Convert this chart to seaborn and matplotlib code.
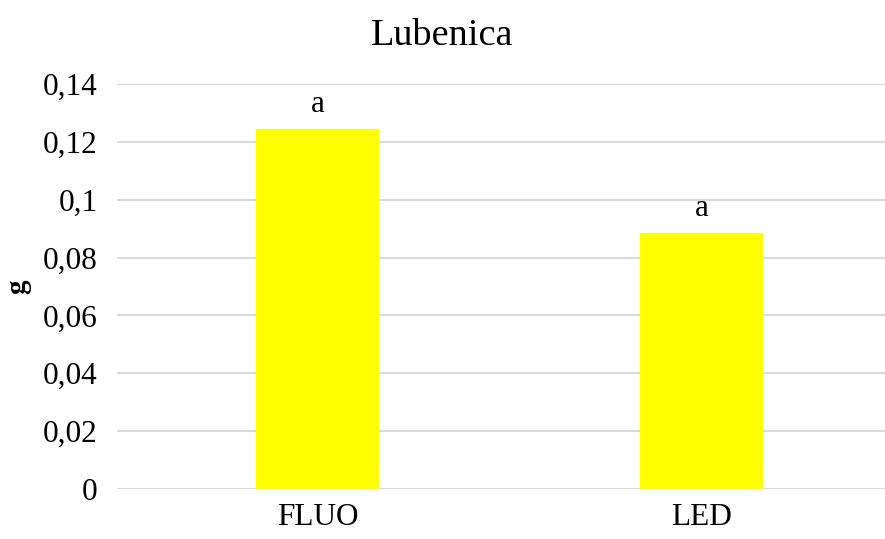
import matplotlib
matplotlib.use("Agg")
import matplotlib.pyplot as plt
import seaborn as sns
import pandas as pd

categories = ["FLUO", "LED"]
values = [0.1244, 0.0885]
letters = ["a", "a"]
tick_values = [0, 0.02, 0.04, 0.06, 0.08, 0.10, 0.12, 0.14]
tick_labels = ["0", "0,02", "0,04", "0,06", "0,08", "0,1", "0,12", "0,14"]
title = "Lubenica"
ylabel = "g"

sns.set_theme(style="white")
plt.rcParams["font.family"] = ["Liberation Serif", "DejaVu Serif"]

df = pd.DataFrame({"cat": categories, "val": values})

W, H = 885, 539
fig = plt.figure(figsize=(W / 100, H / 100), dpi=100)
left, right, bottom, top = 117, 885, 489, 84
ax = fig.add_axes([left / W, (H - bottom) / H, (right - left) / W, (bottom - top) / H])

sns.barplot(data=df, x="cat", y="val", color="#FFFF00", saturation=1, width=0.32, ax=ax, zorder=3)
for p in ax.patches:
    p.set_edgecolor("none")

ax.set_xlim(-0.521, 1.476)
ax.set_ylim(0, 0.14)
ax.set_yticks(tick_values)
ax.set_yticklabels(tick_labels)
ax.yaxis.grid(True, color="#d9d9d9", linewidth=1.5, zorder=0)
ax.xaxis.grid(False)
ax.set_axisbelow(True)
for s in ax.spines.values():
    s.set_visible(False)
ax.tick_params(axis="y", length=0, pad=14, labelsize=22.5, colors="black")
ax.tick_params(axis="x", length=0, pad=10, labelsize=22.5, colors="black")
ax.set_xlabel("")
ax.set_ylabel(ylabel, fontsize=21, fontweight="bold", color="black")
ax.yaxis.set_label_coords(-0.112, 0.5)
ax.set_title(title, fontsize=27.5, color="black", pad=28, x=(442.5 - left) / (right - left))

for i, (v, t) in enumerate(zip(values, letters)):
    ax.annotate(t, xy=(i, v), xytext=(0, 12), textcoords="offset points",
                ha="center", va="baseline", fontsize=22.5, color="black")

fig.savefig("out.png", dpi=100)
